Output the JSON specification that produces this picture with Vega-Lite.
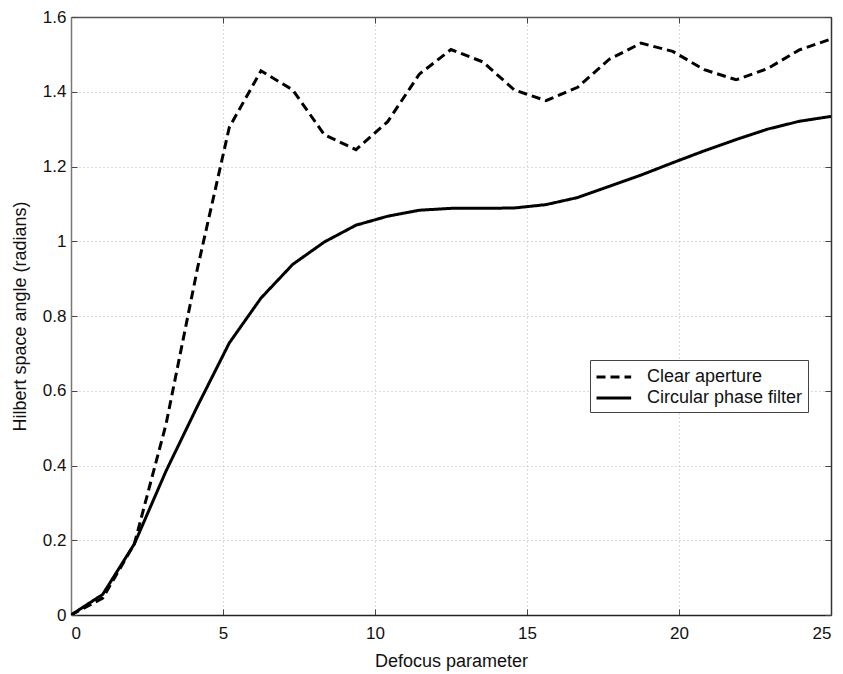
{
  "$schema": "https://vega.github.io/schema/vega-lite/v6.json",
  "autosize": "none",
  "width": 760,
  "height": 598,
  "padding": {"left": 71, "top": 17, "right": 12, "bottom": 59},
  "background": "white",
  "config": {
    "font": "Liberation Sans",
    "view": {"stroke": null},
    "axis": {
      "labelFont": "Liberation Sans",
      "titleFont": "Liberation Sans",
      "labelFontSize": 17,
      "titleFontSize": 18,
      "titleFontWeight": "normal",
      "labelColor": "#111",
      "titleColor": "#111",
      "domainColor": "#444",
      "domainWidth": 1.5,
      "tickColor": "#444",
      "gridColor": "#b4b4b4",
      "gridDash": [1, 3],
      "gridWidth": 1
    }
  },
  "data": {
    "values": [
      {"x": 0, "y": 0, "series": "Clear aperture"},
      {"x": 1.042, "y": 0.045, "series": "Clear aperture"},
      {"x": 2.083, "y": 0.19, "series": "Clear aperture"},
      {"x": 3.125, "y": 0.51, "series": "Clear aperture"},
      {"x": 4.167, "y": 0.93, "series": "Clear aperture"},
      {"x": 5.208, "y": 1.305, "series": "Clear aperture"},
      {"x": 6.25, "y": 1.456, "series": "Clear aperture"},
      {"x": 7.292, "y": 1.405, "series": "Clear aperture"},
      {"x": 8.333, "y": 1.285, "series": "Clear aperture"},
      {"x": 9.375, "y": 1.245, "series": "Clear aperture"},
      {"x": 10.417, "y": 1.32, "series": "Clear aperture"},
      {"x": 11.458, "y": 1.447, "series": "Clear aperture"},
      {"x": 12.5, "y": 1.513, "series": "Clear aperture"},
      {"x": 13.542, "y": 1.48, "series": "Clear aperture"},
      {"x": 14.583, "y": 1.405, "series": "Clear aperture"},
      {"x": 15.625, "y": 1.376, "series": "Clear aperture"},
      {"x": 16.667, "y": 1.412, "series": "Clear aperture"},
      {"x": 17.708, "y": 1.487, "series": "Clear aperture"},
      {"x": 18.75, "y": 1.53, "series": "Clear aperture"},
      {"x": 19.792, "y": 1.508, "series": "Clear aperture"},
      {"x": 20.833, "y": 1.459, "series": "Clear aperture"},
      {"x": 21.875, "y": 1.432, "series": "Clear aperture"},
      {"x": 22.917, "y": 1.462, "series": "Clear aperture"},
      {"x": 23.958, "y": 1.512, "series": "Clear aperture"},
      {"x": 25, "y": 1.541, "series": "Clear aperture"},
      {"x": 0, "y": 0, "series": "Circular phase filter"},
      {"x": 1.042, "y": 0.055, "series": "Circular phase filter"},
      {"x": 2.083, "y": 0.19, "series": "Circular phase filter"},
      {"x": 3.125, "y": 0.385, "series": "Circular phase filter"},
      {"x": 4.167, "y": 0.56, "series": "Circular phase filter"},
      {"x": 5.208, "y": 0.728, "series": "Circular phase filter"},
      {"x": 6.25, "y": 0.848, "series": "Circular phase filter"},
      {"x": 7.292, "y": 0.938, "series": "Circular phase filter"},
      {"x": 8.333, "y": 0.998, "series": "Circular phase filter"},
      {"x": 9.375, "y": 1.043, "series": "Circular phase filter"},
      {"x": 10.417, "y": 1.067, "series": "Circular phase filter"},
      {"x": 11.458, "y": 1.083, "series": "Circular phase filter"},
      {"x": 12.5, "y": 1.088, "series": "Circular phase filter"},
      {"x": 13.542, "y": 1.088, "series": "Circular phase filter"},
      {"x": 14.583, "y": 1.089, "series": "Circular phase filter"},
      {"x": 15.625, "y": 1.098, "series": "Circular phase filter"},
      {"x": 16.667, "y": 1.117, "series": "Circular phase filter"},
      {"x": 17.708, "y": 1.147, "series": "Circular phase filter"},
      {"x": 18.75, "y": 1.177, "series": "Circular phase filter"},
      {"x": 19.792, "y": 1.21, "series": "Circular phase filter"},
      {"x": 20.833, "y": 1.242, "series": "Circular phase filter"},
      {"x": 21.875, "y": 1.272, "series": "Circular phase filter"},
      {"x": 22.917, "y": 1.3, "series": "Circular phase filter"},
      {"x": 23.958, "y": 1.321, "series": "Circular phase filter"},
      {"x": 25, "y": 1.334, "series": "Circular phase filter"}
    ]
  },
  "layer": [
    {
      "mark": {"type": "line", "color": "black", "strokeWidth": 3, "clip": true},
      "encoding": {
        "x": {
          "field": "x", "type": "quantitative",
          "scale": {"domain": [0, 25], "nice": false},
          "axis": {
            "title": "Defocus parameter",
            "values": [0, 5, 10, 15, 20, 25],
            "grid": true,
            "tickSize": -6,
            "labelPadding": 16,
            "titlePadding": 11,
            "domainColor": "#222"
          }
        },
        "y": {
          "field": "y", "type": "quantitative",
          "scale": {"domain": [0, 1.6], "nice": false},
          "axis": {
            "title": "Hilbert space angle (radians)",
            "values": [0, 0.2, 0.4, 0.6, 0.8, 1, 1.2, 1.4, 1.6],
            "format": ".2~f",
            "grid": true,
            "tickSize": -6,
            "labelPadding": 11,
            "titlePadding": 13,
            "domainColor": "#777"
          }
        },
        "strokeDash": {
          "field": "series", "type": "nominal",
          "scale": {"domain": ["Clear aperture", "Circular phase filter"], "range": [[9, 5], [1, 0]]},
          "legend": {
            "title": null,
            "orient": "none",
            "legendX": 519,
            "legendY": 343,
            "symbolType": "M-1,0H2.3",
            "symbolStrokeWidth": 3,
            "symbolStrokeColor": "black",
            "symbolSize": 441,
            "labelFontSize": 18,
            "labelFont": "Liberation Sans",
            "labelColor": "#111",
            "labelOffset": 28,
            "rowPadding": 0,
            "padding": 5,
            "strokeColor": "#444",
            "fillColor": "white"
          }
        }
      }
    },
    {
      "mark": {"type": "point", "opacity": 0},
      "encoding": {
        "x": {
          "field": "x", "type": "quantitative",
          "axis": {"orient": "top", "values": [0, 5, 10, 15, 20, 25], "labels": false, "title": null, "grid": false, "tickSize": -6, "domainColor": "#555"}
        },
        "y": {
          "field": "y", "type": "quantitative",
          "axis": {"orient": "right", "values": [0, 0.2, 0.4, 0.6, 0.8, 1, 1.2, 1.4, 1.6], "labels": false, "title": null, "grid": false, "tickSize": -6, "domainColor": "#333"}
        }
      }
    }
  ],
  "resolve": {"axis": {"x": "independent", "y": "independent"}}
}
